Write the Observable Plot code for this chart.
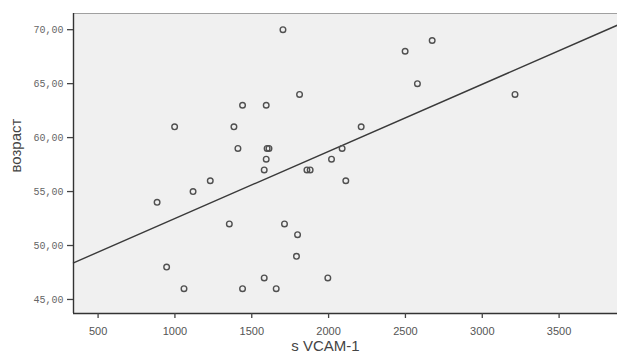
<!DOCTYPE html>
<html>
<head>
<meta charset="utf-8">
<script src="https://cdn.jsdelivr.net/npm/d3@7"></script>
<script src="https://cdn.jsdelivr.net/npm/@observablehq/plot@0.6"></script>
<style>
  html, body { margin: 0; padding: 0; background: #fff; }
  #chart { width: 617px; height: 356px; }
</style>
</head>
<body>
<div id="chart"></div>
<script>
// sVCAM-1 values (x) and age (y) for each patient
const vcam = [1703, 2674, 2498, 2578, 1811, 3213, 1440, 1594, 998, 1384, 2212,
              1410, 1600, 1612, 2088, 1594, 2019, 1581, 1859, 1880, 1230, 2112,
              1118, 884, 1354, 1713, 1798, 1791, 946, 1581, 1995, 1059, 1440, 1659];
const age  = [70, 69, 68, 65, 64, 64, 63, 63, 61, 61, 61,
              59, 59, 59, 59, 58, 58, 57, 57, 57, 56, 56,
              55, 54, 52, 52, 51, 49, 48, 47, 47, 46, 46, 46];

const xTicks = [500, 1000, 1500, 2000, 2500, 3000, 3500];
const yTicks = [45, 50, 55, 60, 65, 70];
const xDomain = [340, 3880];
const yDomain = [43.7, 71.5];
const xLabel = "s VCAM-1";
const yLabel = "возраст";

const points = vcam.map((v, i) => ({x: v, y: age[i]}));

// least-squares fit line, drawn across the whole x range
const mx = d3.mean(vcam), my = d3.mean(age);
const slope = d3.sum(vcam, (v, i) => (v - mx) * (age[i] - my)) / d3.sum(vcam, v => (v - mx) ** 2);
const fit = xDomain.map(x => ({x, y: my + slope * (x - mx)}));

const chart = Plot.plot({
  width: 617,
  height: 356,
  marginTop: 13,
  marginBottom: 43,
  marginLeft: 73,
  marginRight: 0,
  style: {background: "#fff", overflow: "visible"},
  x: {domain: xDomain, ticks: xTicks, label: null},
  y: {domain: yDomain, ticks: yTicks, label: null},
  marks: [
    Plot.frame({fill: "#f0f0f0", stroke: null}),
    Plot.ruleY([yDomain[1]], {stroke: "#a0a0a0", strokeWidth: 1.2}),
    Plot.line(fit, {x: "x", y: "y", stroke: "#3a3a3a", strokeWidth: 1.4}),
    Plot.dot(points, {x: "x", y: "y", r: 2.8, stroke: "#505050", strokeWidth: 1.4, fill: "none"}),
    Plot.ruleX([xDomain[0]], {stroke: "#333", strokeWidth: 1.4}),
    Plot.ruleY([yDomain[0]], {stroke: "#333", strokeWidth: 1.4}),
    Plot.axisX(xTicks, {tickSize: 5, tickPadding: 9, stroke: "#444", strokeWidth: 1.3,
      fill: "#555", fontSize: 11, fontFamily: "Liberation Sans, Arial, sans-serif",
      tickFormat: d => String(d), label: null}),
    Plot.axisY(yTicks, {tickSize: 6, tickPadding: 4, stroke: "#444", strokeWidth: 1.3,
      fill: "#666", fontSize: 10, fontFamily: "Liberation Mono, DejaVu Sans Mono, monospace",
      tickFormat: d => d.toFixed(2).replace(".", ","), label: null}),
    Plot.text([xLabel], {frameAnchor: "bottom", dx: -20, dy: 37, fontSize: 15,
      fill: "#444", fontFamily: "Liberation Sans, Arial, sans-serif"}),
    Plot.text([yLabel], {frameAnchor: "left", dx: -57, dy: 9, rotate: -90, fontSize: 15,
      fill: "#444", fontFamily: "Liberation Sans, Arial, sans-serif"})
  ]
});
document.getElementById("chart").appendChild(chart);
</script>
</body>
</html>
